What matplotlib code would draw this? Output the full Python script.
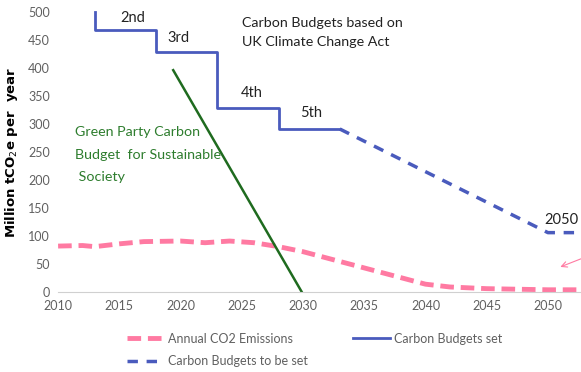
import matplotlib.pyplot as plt

plt.rcParams['font.family'] = ['Lato', 'DejaVu Sans']

# annual emissions (pink dashed)
em_years = [2010, 2012, 2013, 2015, 2017, 2020, 2022, 2024, 2026, 2028, 2030,
            2035, 2040, 2042, 2045, 2050, 2053]
em_vals = [82, 83, 81, 86, 90, 91, 88, 91, 88, 81, 72, 43, 14, 9, 6, 4, 4]

# carbon budgets set (blue steps)
cb_years = [2013, 2013, 2018, 2018, 2023, 2023, 2028, 2028, 2033]
cb_vals = [500, 468, 468, 428, 428, 328, 328, 291, 291]

# carbon budgets to be set (blue dashed)
tbs_years = [2033, 2050, 2053]
tbs_vals = [291, 106, 106]

# green party budget
gp_years = [2019.4, 2029.9]
gp_vals = [396, 0]

blue = '#4a5bbd'
pink = '#ff7aa2'
green = '#1f6b1f'
gray = '#606060'

fig = plt.figure(figsize=(5.81, 3.72), dpi=100)
ax = fig.add_axes([0.1, 0.215, 0.9, 0.753])

ax.plot(em_years, em_vals, color=pink, lw=3.5, ls=(0, (2.8, 1.4)), label='Annual CO2 Emissions')
ax.plot(tbs_years, tbs_vals, color=blue, lw=2.5, ls=(0, (3, 2.5)), label='Carbon Budgets to be set')
ax.plot(cb_years, cb_vals, color=blue, lw=2, label='Carbon Budgets set', clip_on=False)
ax.plot(gp_years, gp_vals, color=green, lw=1.8)

ax.set_xlim(2010, 2052.7)
ax.set_ylim(0, 500)
ax.set_xticks(range(2010, 2051, 5))
ax.set_yticks(range(0, 501, 50))
ax.tick_params(colors=gray, labelsize=9, length=0, pad=6)
for s in ['top', 'right', 'left']:
    ax.spines[s].set_visible(False)
ax.spines['bottom'].set_color('#d0d0d0')

ax.set_ylabel('Million tCO$_2$e per  year', fontweight='bold', fontsize=9.5,
              family='DejaVu Sans', labelpad=6)

for txt, x, y in [('2nd', 2016.1, 489), ('3rd', 2019.8, 453), ('4th', 2025.8, 355),
                  ('5th', 2030.7, 320), ('2050', 2051.1, 128)]:
    ax.text(x, y, txt, fontsize=10.5, ha='center', va='center', color='#222222')

ax.text(2025.0, 463, 'Carbon Budgets based on\nUK Climate Change Act', fontsize=10.3,
        color='#222222', va='center', linespacing=1.75)
ax.text(2011.4, 296, 'Green Party Carbon\nBudget  for Sustainable\n Society', fontsize=10.3,
        color='#2e7d2e', va='top', linespacing=2.05)

ax.annotate('', xy=(2050.8, 43), xytext=(2052.9, 61),
            arrowprops=dict(arrowstyle='->', color=pink, lw=0.8), annotation_clip=False)

leg = ax.legend(loc='upper left', bbox_to_anchor=(0.11, -0.105), ncol=2, frameon=False,
                fontsize=9, handlelength=3, handletextpad=0.3, columnspacing=3.6,
                labelspacing=0.85)
for t in leg.get_texts():
    t.set_color(gray)

fig.savefig('out.png', dpi=100)
